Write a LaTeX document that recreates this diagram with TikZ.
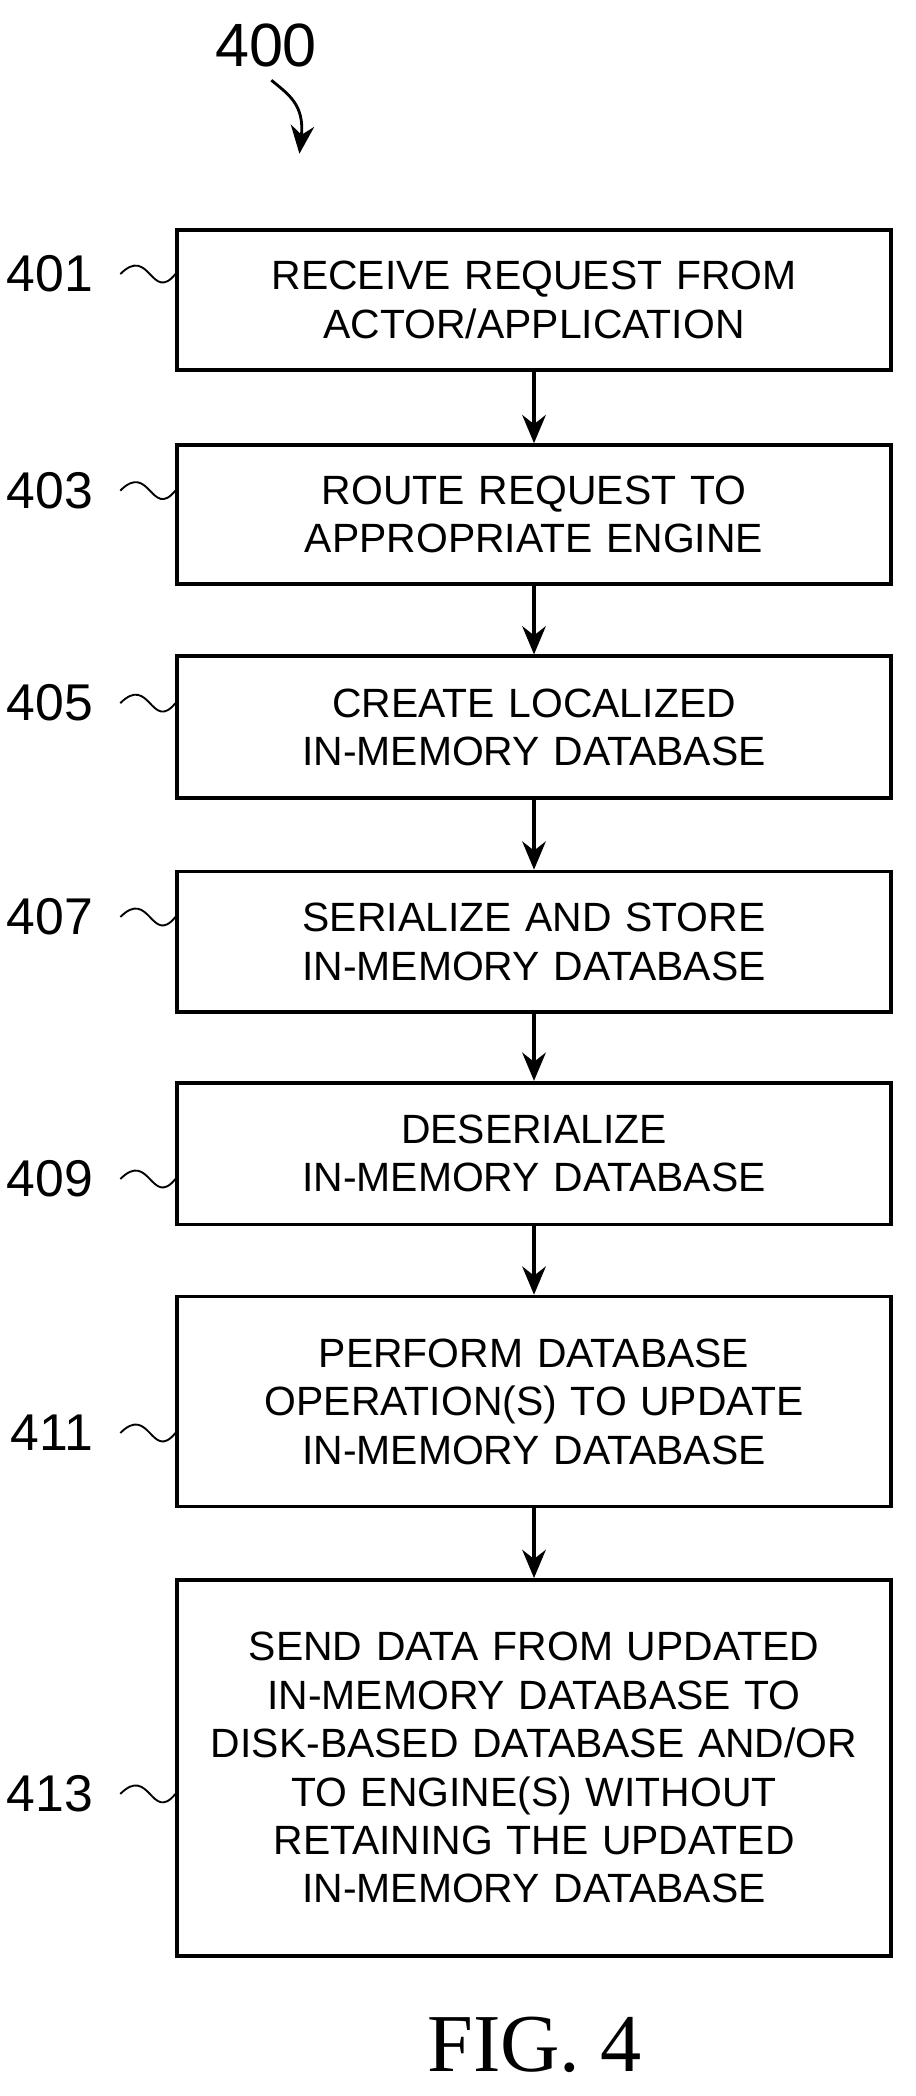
\documentclass[tikz,border=0pt]{standalone}
\usepackage{fontspec}
\setmainfont{Liberation Serif}
\setsansfont{Liberation Sans}
\usetikzlibrary{arrows.meta,positioning}
\tikzset{
    stage/.style={
           draw=black, thick,
           minimum width=5.25cm,
           text width=5.1cm,
           align=center,
           font=\sffamily\fontsize{8.7}{10.3}\selectfont
           },
    tag/.style={
           font=\sffamily\fontsize{11}{12}\selectfont,
           anchor=east
           },
    flow/.style={-{Stealth[length=6pt,width=5pt]}, thick}
}
\begin{document}
\begin{tikzpicture}[x=0.01cm,y=-0.01cm]
   \useasboundingbox (0,0) rectangle (685,1568);
   \node[stage, minimum height=1.05cm] (s401) at (399.5,224.5) {RECEIVE REQUEST FROM\\ACTOR/APPLICATION};
   \node[stage, minimum height=1.04cm] (s403) at (399.5,385) {ROUTE REQUEST TO\\APPROPRIATE ENGINE};
   \node[stage, minimum height=1.06cm] (s405) at (399.5,544) {CREATE LOCALIZED\\IN-MEMORY DATABASE};
   \node[stage, minimum height=1.05cm] (s407) at (399.5,704.5) {SERIALIZE AND STORE\\IN-MEMORY DATABASE};
   \node[stage, minimum height=1.06cm] (s409) at (399.5,863) {DESERIALIZE\\IN-MEMORY DATABASE};
   \node[stage, minimum height=1.57cm] (s411) at (399.5,1048.5) {PERFORM DATABASE\\OPERATION(S) TO UPDATE\\IN-MEMORY DATABASE};
   \node[stage, minimum height=2.81cm] (s413) at (399.5,1322.5) {SEND DATA FROM UPDATED\\IN-MEMORY DATABASE TO\\DISK-BASED DATABASE AND/OR\\TO ENGINE(S) WITHOUT\\RETAINING THE UPDATED\\IN-MEMORY DATABASE};
   \foreach \a/\b in {s401/s403,s403/s405,s405/s407,s407/s409,s409/s411,s411/s413}
      \draw[flow] (\a) -- (\b);
   % reference numerals
   \foreach \n/\y in {401/205,403/367,405/526,407/686,409/882,411/1072,413/1342} {
      \node[tag] (t\n) at (82,\y) {\n};
      \draw (t\n.east) ++(8,0) .. controls +(22,-22) and +(-18,22) .. (s\n.west |- 0,\y);
   }
   \node[font=\sffamily\fontsize{13}{14}\selectfont] (t400) at (199,34) {400};
   \coordinate (h400) at (224,115);
   \draw[flow, thin, line width=0.6pt] (203,60) .. controls (215,70) and (228,78) .. (h400);
   \node[font=\fontsize{17.5}{18}\selectfont] (fig) at (400,1530) {FIG. 4};
\end{tikzpicture}
\end{document}
